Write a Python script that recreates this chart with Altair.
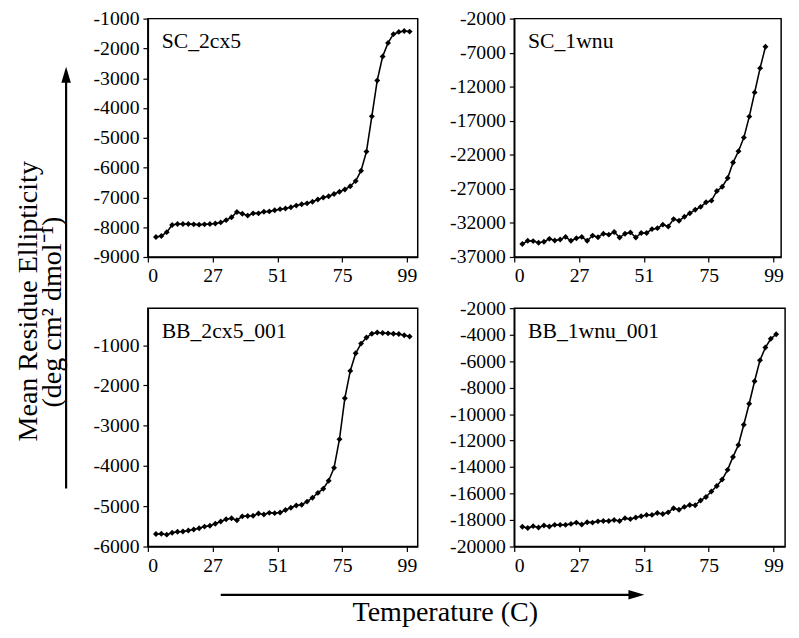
import altair as alt
import pandas as pd

# ---- data ----
temps_48 = [6, 8, 10, 12, 14, 16, 18, 20, 22, 24, 26, 28, 30, 32, 34, 36, 38, 40, 42, 44,
            46, 48, 50, 52, 54, 56, 58, 60, 62, 64, 66, 68, 70, 72, 74, 76, 78, 80, 82, 84,
            86, 88, 90, 92, 94, 96, 98, 100]
temps_46 = [6, 8, 10, 12, 14, 16, 18, 20, 22, 24, 26, 28, 30, 32, 34, 36, 38, 40, 42, 44,
            46, 48, 50, 52, 54, 56, 58, 60, 62, 64, 66, 68, 70, 72, 74, 76, 78, 80, 82, 84,
            86, 88, 90, 92, 94, 96]

sc_2cx5 = [-8330, -8296, -8166, -7927, -7895, -7895, -7895, -7905, -7915, -7905,
           -7895, -7875, -7840, -7764, -7667, -7490, -7547, -7612, -7536, -7536,
           -7480, -7470, -7430, -7395, -7373, -7330, -7275, -7232, -7200, -7145,
           -7070, -7004, -6960, -6885, -6811, -6733, -6625, -6453, -6104, -5463,
           -4280, -3075, -2270, -1815, -1521, -1446, -1414, -1436]

sc_1wnu = [-35096, -34620, -34670, -34906, -34760, -34336, -34573, -34430, -34050, -34620,
           -34240, -34050, -34620, -33860, -34100, -33580, -33720, -33340, -34150, -33580,
           -33390, -34150, -33480, -33480, -32910, -32770, -32250, -32530, -31440, -31680,
           -31100, -30590, -30060, -29640, -28970, -28730, -27310, -26690, -25410, -23130,
           -21470, -19470, -16390, -12830, -9270, -6130]

bb_2cx5_001 = [-5689, -5681, -5705, -5657, -5633, -5625, -5601, -5577, -5545, -5505,
               -5482, -5434, -5378, -5322, -5298, -5346, -5250, -5242, -5234, -5179,
               -5203, -5163, -5171, -5155, -5091, -5035, -4979, -4963, -4884, -4788,
               -4668, -4565, -4365, -4046, -3335, -2316, -1638, -1199, -960, -809,
               -713, -685, -697, -705, -713, -721, -753, -785]

bb_1wnu_001 = [-18509, -18606, -18460, -18558, -18412, -18485, -18364, -18364, -18364, -18291,
               -18194, -18339, -18170, -18194, -18097, -18073, -18073, -18000, -18073, -17855,
               -17927, -17806, -17709, -17612, -17612, -17467, -17539, -17418, -17103, -17224,
               -17006, -16861, -16885, -16521, -16255, -15842, -15430, -14940, -14210, -13233,
               -12336, -10804, -9222, -7521, -5939, -4969, -4312, -3969]

x_ticks = [3, 27, 51, 75, 99]
panel_titles = ["SC_2cx5", "SC_1wnu", "BB_2cx5_001", "BB_1wnu_001"]
y_ticks_1 = [-9000, -8000, -7000, -6000, -5000, -4000, -3000, -2000, -1000]
y_ticks_2 = [-37000, -32000, -27000, -22000, -17000, -12000, -7000, -2000]
y_ticks_3 = [-6000, -5000, -4000, -3000, -2000, -1000]
y_ticks_4 = [-20000, -18000, -16000, -14000, -12000, -10000, -8000, -6000, -4000, -2000]

y_title_1 = "Mean Residue Ellipticity"
y_title_2 = "(deg cm\u00b2 dmol\u207b\u00b9)"
x_title = "Temperature (C)"

FONT = "Liberation Serif"
H = 242

AX = dict(labelFont=FONT, labelFontSize=20, labelColor="black",
          tickColor="black", domainColor="black", domainWidth=1.5,
          tickSize=5, tickWidth=1.2, labelPadding=4, grid=False)


def panel(temps, vals, title, ydomain, yticks, xdomain, width, extra=None):
    df = pd.DataFrame({"T": temps, "v": vals})
    x = alt.X("T:Q", title=None,
              scale=alt.Scale(domain=xdomain, nice=False, zero=False),
              axis=alt.Axis(values=x_ticks,
                            labelExpr="datum.value == 3 ? '0' : '' + datum.value", **AX))
    y = alt.Y("v:Q", title=None,
              scale=alt.Scale(domain=ydomain, nice=False, zero=False),
              axis=alt.Axis(values=yticks, labelExpr="'' + datum.value", **AX))
    line = alt.Chart(df).mark_line(color="black", strokeWidth=1.6).encode(x=x, y=y)
    pts = alt.Chart(df).mark_point(shape="diamond", filled=True, color="black",
                                   size=36, opacity=1).encode(x=x, y=y)
    lab = alt.Chart(pd.DataFrame({"t": [title]})).mark_text(
        font=FONT, fontSize=22, align="left", baseline="alphabetic", color="black"
    ).encode(x=alt.value(14), y=alt.value(30), text="t:N")
    layers = [line, pts, lab] + (extra or [])
    return alt.layer(*layers).properties(width=width, height=H)


# y-axis title + arrow (drawn in the coordinates of the top-left panel)
ytxt = pd.DataFrame({"t": [y_title_1, y_title_2], "dx": [-122, -97], "dy": [287, 298]})
y_title_layer = alt.Chart(ytxt).mark_text(
    font=FONT, fontSize=28.5, angle=270, align="center", baseline="middle", color="black"
).encode(x=alt.X("dx:Q", scale=None), y=alt.Y("dy:Q", scale=None), text="t:N")
y_arrow_line = alt.Chart(pd.DataFrame({"a": [0]})).mark_rule(
    color="black", strokeWidth=2.2
).encode(x=alt.value(-83), y=alt.value(477), y2=alt.value(62))
y_arrow_head = alt.Chart(pd.DataFrame({"a": [0]})).mark_point(
    shape="M0,-1L0.6,1L-0.6,1Z", filled=True, color="black", opacity=1, size=260
).encode(x=alt.value(-83), y=alt.value(57))

# x-axis title + arrow (drawn in the coordinates of the bottom-left panel)
xtxt = pd.DataFrame({"t": [x_title]})
x_title_layer = alt.Chart(xtxt).mark_text(
    font=FONT, fontSize=28.5, align="center", baseline="middle", color="black"
).encode(x=alt.value(302), y=alt.value(309), text="t:N")
x_arrow_line = alt.Chart(pd.DataFrame({"a": [0]})).mark_rule(
    color="black", strokeWidth=2.2
).encode(x=alt.value(74), x2=alt.value(492), y=alt.value(291))
x_arrow_head = alt.Chart(pd.DataFrame({"a": [0]})).mark_point(
    shape="M1,0L-1,-0.6L-1,0.6Z", filled=True, color="black", opacity=1, size=260
).encode(x=alt.value(496), y=alt.value(291))

p1 = panel(temps_48, sc_2cx5, panel_titles[0], [-9000, -1000], y_ticks_1, [3, 103], 274,
           [y_title_layer, y_arrow_line, y_arrow_head])
p2 = panel(temps_46, sc_1wnu, panel_titles[1], [-37000, -2000], y_ticks_2, [3, 101.8], 271)
p3 = panel(temps_48, bb_2cx5_001, panel_titles[2], [-6000, -80], y_ticks_3, [3, 103], 274,
           [x_title_layer, x_arrow_line, x_arrow_head])
p4 = panel(temps_48, bb_1wnu_001, panel_titles[3], [-20000, -2000], y_ticks_4, [3, 103.3], 275)

chart = alt.concat(
    p1, p2, p3, p4, columns=2, bounds="flush",
    spacing=alt.RowColnumber(row=52, column=98),
).properties(
    padding={"left": 5, "top": -5, "right": 5, "bottom": 0}
).configure(
    font=FONT
).configure_view(
    stroke="black", strokeWidth=1.5
).configure_axis(**AX)

chart.save("out.html", embed_options={"renderer": "svg", "actions": False})
